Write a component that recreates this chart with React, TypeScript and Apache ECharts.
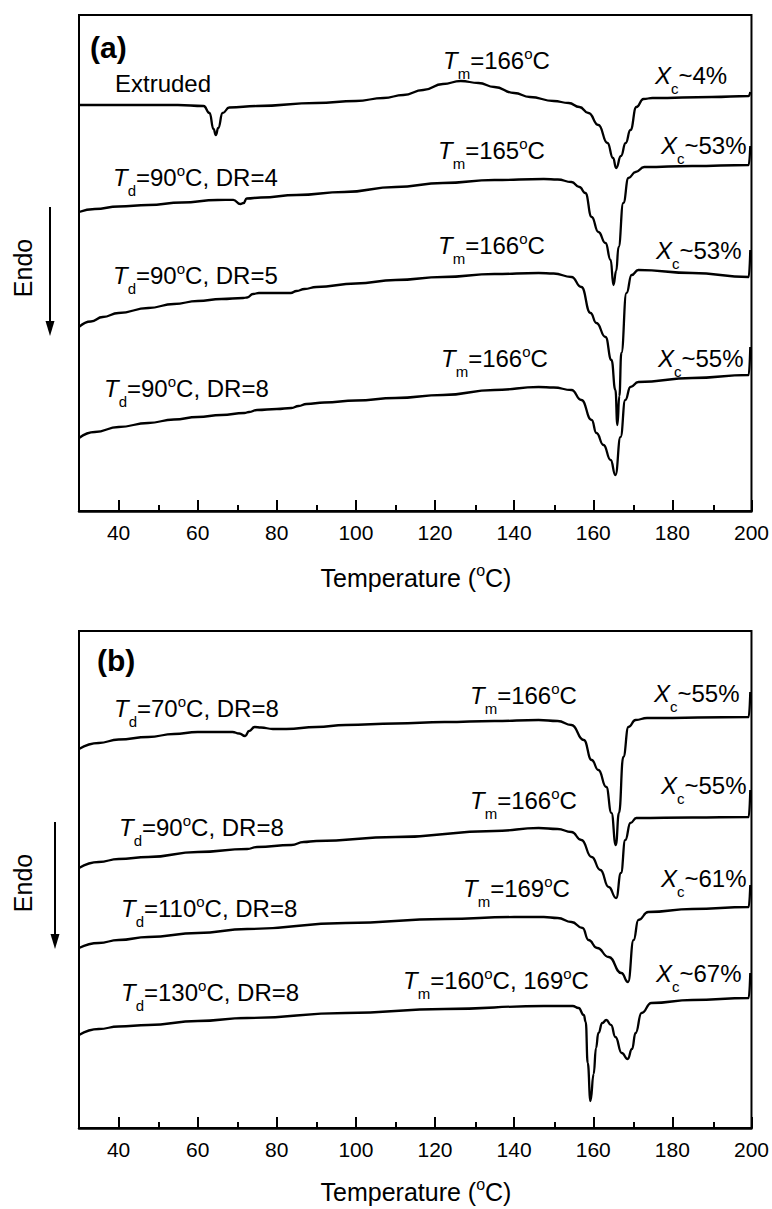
import React, { useEffect, useRef } from "react";
import * as echarts from "echarts";

const FONT = '"Liberation Sans", Arial, Helvetica, sans-serif';

// ---- axes ----
const X_MIN = 30;
const X_MAX = 200;
const majorTicks = [40, 60, 80, 100, 120, 140, 160, 180, 200];
const minorTicks = [50, 70, 90, 110, 130, 150, 170, 190];
const Y_MAX_A = 49.6;
const Y_MAX_B = 49.7;

// ---- panel (a): [temperature °C, heat flow (a.u.)] ----
const aExtruded: [number, number][] = [
  [30, 40.6], [38, 40.6], [45, 40.6], [55, 40.6], [61.5, 40.5], [63, 39.8], [64, 38.2], [64.6, 37.6],
  [65.2, 38.3], [66.3, 39.8], [68, 40.35], [75, 40.5], [90, 40.8], [100, 41.0], [107, 41.3], [112, 41.6],
  [117, 42.1], [122, 42.7], [126.5, 43.0], [131, 42.8], [135, 42.4], [140, 41.8], [144, 41.4], [150, 41.0],
  [153.8, 40.8], [156.5, 40.4], [158.8, 39.8], [161.3, 38.6], [163.6, 36.8], [165, 35.3], [165.8, 34.3],
  [167, 35.5], [168.2, 36.8], [169.4, 38.1], [170.9, 40.4], [172.7, 41.2], [175, 41.3], [190, 41.4],
  [199.3, 41.5], [199.7, 41.9],
];
const aDR4: [number, number][] = [
  [30, 29.9], [34, 30.2], [40, 30.45], [47.5, 30.6], [56, 30.85], [65, 31.1], [69, 31.12], [70.8, 30.7],
  [71.6, 30.8], [72.4, 31.25], [76, 31.35], [85, 31.6], [97, 31.9], [110, 32.4], [122, 32.8], [135, 33.1],
  [147.5, 33.2], [151, 33.15], [154.5, 32.9], [156.5, 32.4], [158, 31.8], [159.6, 29.4], [161.3, 27.9],
  [163.1, 26.8], [164.4, 25.1], [165.1, 22.6], [165.8, 24.0], [166.4, 26.4], [167.6, 30.8], [168.9, 33.3],
  [170.7, 33.9], [172.9, 34.4], [185, 34.5], [199.3, 34.6], [199.7, 36.5],
];
const aDR5: [number, number][] = [
  [30, 18.4], [33, 18.95], [36, 19.4], [40, 19.8], [47.5, 20.3], [54, 20.7], [60, 21.0], [66, 21.2],
  [71.5, 21.3], [72.5, 21.35], [74, 21.7], [75.5, 21.8], [80, 21.8], [83.5, 21.8], [85, 22.0], [87, 22.2],
  [90, 22.4], [100, 22.75], [110, 23.1], [122, 23.4], [135, 23.7], [146.2, 23.8], [150, 23.75], [154.5, 23.4],
  [157, 22.4], [159.3, 19.8], [160.8, 18.8], [163.1, 17.4], [164.6, 15.1], [165.6, 12.1], [166.1, 8.6],
  [166.6, 11.5], [167.1, 15.8], [168.4, 21.8], [169.7, 23.6], [171.4, 24.1], [185, 23.8], [199.3, 23.4],
  [199.7, 26.1],
];
const aDR8: [number, number][] = [
  [30, 7.3], [34, 7.9], [40, 8.4], [47.5, 8.8], [54, 9.15], [60, 9.4], [66, 9.6], [71.8, 9.8], [73, 9.9],
  [75, 10.1], [80, 10.2], [83.7, 10.3], [85.5, 10.5], [87.5, 10.7], [92, 10.85], [100, 11.05], [110, 11.3],
  [122, 11.6], [135, 12.1], [146.2, 12.4], [150, 12.35], [154.5, 12.1], [157, 11.1], [159.6, 9.1],
  [160.8, 7.8], [162.6, 6.6], [164.4, 5.1], [165.6, 3.6], [166.9, 7.4], [168.1, 11.1], [169.4, 12.4],
  [171.4, 12.9], [185, 13.3], [199.3, 13.6], [199.7, 16.4],
];
const aTd = [90, 90, 90];
const aDR = [4, 5, 8];
const aTm = [[166], [165], [166], [166]];
const aXc = [4, 53, 53, 55];

// ---- panel (b) ----
const bTd70: [number, number][] = [
  [30, 37.9], [35, 38.5], [40, 38.85], [47.5, 39.1], [54, 39.4], [60, 39.6], [68.8, 39.6], [70.5, 39.45],
  [72, 39.2], [73, 39.7], [74.4, 40.1], [76, 40.05], [79, 39.9], [82.4, 39.9], [90, 40.1], [97.4, 40.3],
  [110, 40.45], [122.4, 40.6], [135, 40.7], [146.2, 40.8], [151, 40.7], [154.5, 40.3], [157.6, 38.8],
  [159.6, 36.8], [161.3, 35.8], [163.3, 34.1], [164.6, 31.5], [165.7, 28.3], [166.5, 31.5], [167.6, 37.1],
  [168.9, 40.1], [170.7, 40.8], [173.6, 41.0], [199.3, 41.1], [199.7, 43.6],
];
const bTd90: [number, number][] = [
  [30, 26.0], [35, 26.6], [40, 26.9], [47.5, 27.1], [60, 27.6], [72.5, 27.9], [75, 28.1], [83.7, 28.3],
  [86.8, 28.6], [90, 28.7], [110, 29.1], [135, 29.7], [146.2, 30.0], [151, 29.9], [154.5, 29.6], [157, 28.8],
  [159.6, 27.1], [161.8, 25.8], [163.9, 24.1], [165.8, 23.0], [167, 25.5], [168.1, 28.8], [169.4, 30.5],
  [170.9, 31.0], [185, 31.05], [199.3, 31.1], [199.7, 33.8],
];
const bTd110: [number, number][] = [
  [30, 18.0], [35, 18.5], [40, 18.8], [47.5, 19.1], [60, 19.5], [72.5, 19.9], [97.4, 20.5], [122.4, 20.9],
  [140, 21.1], [147.5, 21.1], [151, 21.0], [154.5, 20.6], [157.3, 20.0], [158.8, 18.8], [161, 18.0],
  [163.9, 17.1], [167.1, 15.5], [168.8, 14.6], [170.2, 18.8], [171.4, 20.8], [173.9, 21.6], [185, 21.9],
  [199.3, 22.1], [199.7, 24.3],
];
const bTd130: [number, number][] = [
  [30, 9.3], [35, 9.9], [40, 10.15], [47.5, 10.3], [60, 10.7], [72.5, 11.0], [97.4, 11.5], [122.4, 11.9],
  [147.5, 12.2], [154.8, 12.2], [156.3, 12.0], [157.6, 11.3], [158.1, 10.6], [158.6, 6.5], [159.3, 2.7],
  [160.1, 5.4], [160.7, 8.0], [161.3, 9.5], [162.3, 10.5], [163.3, 10.8], [164.5, 10.3], [165.6, 9.1],
  [167.2, 7.5], [168.7, 6.9], [169.8, 7.9], [170.7, 9.5], [172.2, 11.5], [174.7, 12.5], [185, 12.8],
  [199.3, 13.0], [199.7, 15.5],
];
const bTd = [70, 90, 110, 130];
const bDR = [8, 8, 8, 8];
const bTm = [[166], [166], [169], [160, 169]];
const bXc = [55, 55, 61, 67];

// ---- layout (pixel anchors: left x, text centre y) ----
const GRID_A = { left: 79, top: 15, width: 674, height: 496 };
const GRID_B = { left: 79, top: 631, width: 674, height: 497 };
const aSamplePos = [[115, 83], [113, 177], [113, 275], [104, 388]];
const aTmPos = [[443, 60], [438, 150], [438, 245], [441, 358]];
const aXcPos = [[655, 75], [661, 145], [656, 250], [658, 358]];
const bSamplePos = [[114, 708], [119, 827], [121, 908], [121, 992]];
const bTmPos = [[470, 695], [470, 800], [463, 888], [403, 980]];
const bXcPos = [[654, 693], [661, 785], [661, 878], [656, 973]];

const rich = {
  n: { fontFamily: FONT, fontSize: 24, fill: "#000", verticalAlign: "top", padding: [3, 0, 0, 0] },
  it: { fontFamily: FONT, fontSize: 24, fontStyle: "italic", fill: "#000", verticalAlign: "top", padding: [3, 0, 0, 0] },
  sub: { fontFamily: FONT, fontSize: 15, fill: "#000", verticalAlign: "top", padding: [20.5, 0, 0, 0] },
  sup: { fontFamily: FONT, fontSize: 15, fill: "#000", verticalAlign: "top", padding: [0.5, 0, 0, 0] },
  tn: { fontFamily: FONT, fontSize: 25, fill: "#000", verticalAlign: "top", padding: [3, 0, 0, 0] },
  tsup: { fontFamily: FONT, fontSize: 16, fill: "#000", verticalAlign: "top", padding: [0, 0, 0, 0] },
};

const tdLabel = (td: number, dr: number) => `{it|T}{sub|d}{n|=${td}}{sup|o}{n|C, DR=${dr}}`;
const tmLabel = (tms: number[]) => "{it|T}{sub|m}{n|=" + tms.map((t) => `${t}}{sup|o}{n|C`).join(", ") + "}";
const xcLabel = (v: number) => `{it|X}{sub|c}{n|~${v}%}`;

function richText(text: string, x: number, cy: number, align = "left", off = 15) {
  return {
    type: "text",
    x,
    y: cy - off,
    silent: true,
    style: {
      text,
      rich,
      fill: "#000",
      align,
      textAlign: align,
      verticalAlign: "top",
      textVerticalAlign: "top",
    },
  };
}

function plainText(text: string, x: number, cy: number, font: string, rotation = 0, align = "left") {
  return {
    type: "text",
    x,
    y: cy,
    rotation,
    silent: true,
    style: { text, font, fill: "#000", align, textAlign: align, verticalAlign: "middle", textVerticalAlign: "middle" },
  };
}

function arrow(x: number, y1: number, y2: number) {
  return [
    { type: "line", silent: true, shape: { x1: x, y1, x2: x, y2: y2 - 12 }, style: { stroke: "#000", lineWidth: 2 } },
    {
      type: "polygon",
      silent: true,
      shape: { points: [[x - 4.5, y2 - 15], [x + 4.5, y2 - 15], [x, y2]] },
      style: { fill: "#000" },
    },
  ];
}

export default function App() {
  const ref = useRef<HTMLDivElement>(null);

  useEffect(() => {
    if (!ref.current) return;
    const chart = echarts.init(ref.current, null, { renderer: "svg" });

    const grids = [GRID_A, GRID_B, GRID_A, GRID_B].map((g, i) => ({
      ...g,
      show: i < 2,
      borderColor: "#000",
      borderWidth: 2,
      backgroundColor: "transparent",
    }));

    const xAxis = [0, 1, 2, 3].map((i) => ({
      type: "value",
      gridIndex: i,
      min: X_MIN,
      max: X_MAX,
      position: "bottom",
      splitLine: { show: false },
      axisLine: { show: i < 2, onZero: false, lineStyle: { color: "#000", width: 2.5 } },
      axisTick: {
        show: true,
        inside: true,
        length: i < 2 ? 11 : 6,
        customValues: i < 2 ? majorTicks : minorTicks,
        lineStyle: { color: "#000", width: 2 },
      },
      axisLabel: {
        show: i < 2,
        customValues: majorTicks,
        margin: 11,
        fontFamily: FONT,
        fontSize: 21,
        color: "#000",
      },
    }));

    const yAxis = [0, 1, 2, 3].map((i) => ({
      type: "value",
      gridIndex: i,
      min: 0,
      max: i % 2 === 0 ? Y_MAX_A : Y_MAX_B,
      show: false,
    }));

    const mk = (data: [number, number][], idx: number) => ({
      type: "line",
      data,
      xAxisIndex: idx,
      yAxisIndex: idx,
      showSymbol: false,
      symbol: "none",
      smooth: 0.5,
      smoothMonotone: "x",
      silent: true,
      lineStyle: { color: "#000", width: 2.3 },
    });

    const series = [
      ...[aExtruded, aDR4, aDR5, aDR8].map((d) => mk(d, 0)),
      ...[bTd70, bTd90, bTd110, bTd130].map((d) => mk(d, 1)),
    ];

    const labels: any[] = [];
    // panel (a)
    labels.push(plainText("(a)", 90, 47, `bold 30px ${FONT}`));
    labels.push(richText("{n|Extruded}", aSamplePos[0][0], aSamplePos[0][1]));
    aTd.forEach((td, i) => labels.push(richText(tdLabel(td, aDR[i]), aSamplePos[i + 1][0], aSamplePos[i + 1][1])));
    aTm.forEach((tm, i) => labels.push(richText(tmLabel(tm), aTmPos[i][0], aTmPos[i][1])));
    aXc.forEach((v, i) => labels.push(richText(xcLabel(v), aXcPos[i][0], aXcPos[i][1])));
    // panel (b)
    labels.push(plainText("(b)", 97, 660, `bold 30px ${FONT}`));
    bTd.forEach((td, i) => labels.push(richText(tdLabel(td, bDR[i]), bSamplePos[i][0], bSamplePos[i][1])));
    bTm.forEach((tm, i) => labels.push(richText(tmLabel(tm), bTmPos[i][0], bTmPos[i][1])));
    bXc.forEach((v, i) => labels.push(richText(xcLabel(v), bXcPos[i][0], bXcPos[i][1])));
    // axis titles
    const title = "{tn|Temperature (}{tsup|o}{tn|C)}";
    labels.push(richText(title, 416, 578, "center", 16));
    labels.push(richText(title, 416, 1192, "center", 16));
    // Endo arrows
    labels.push(plainText("Endo", 23, 268, `25px ${FONT}`, Math.PI / 2, "center"));
    labels.push(plainText("Endo", 23, 883, `25px ${FONT}`, Math.PI / 2, "center"));
    labels.push(...arrow(50, 207, 336));
    labels.push(...arrow(55, 822, 949));

    chart.setOption({
      animation: false,
      backgroundColor: "#fff",
      grid: grids,
      xAxis,
      yAxis,
      series,
      graphic: { elements: labels },
    } as any);

    return () => chart.dispose();
  }, []);

  return (
    <div
      ref={ref}
      style={{ position: "absolute", left: 0, top: 0, width: 772, height: 1209 }}
    />
  );
}
